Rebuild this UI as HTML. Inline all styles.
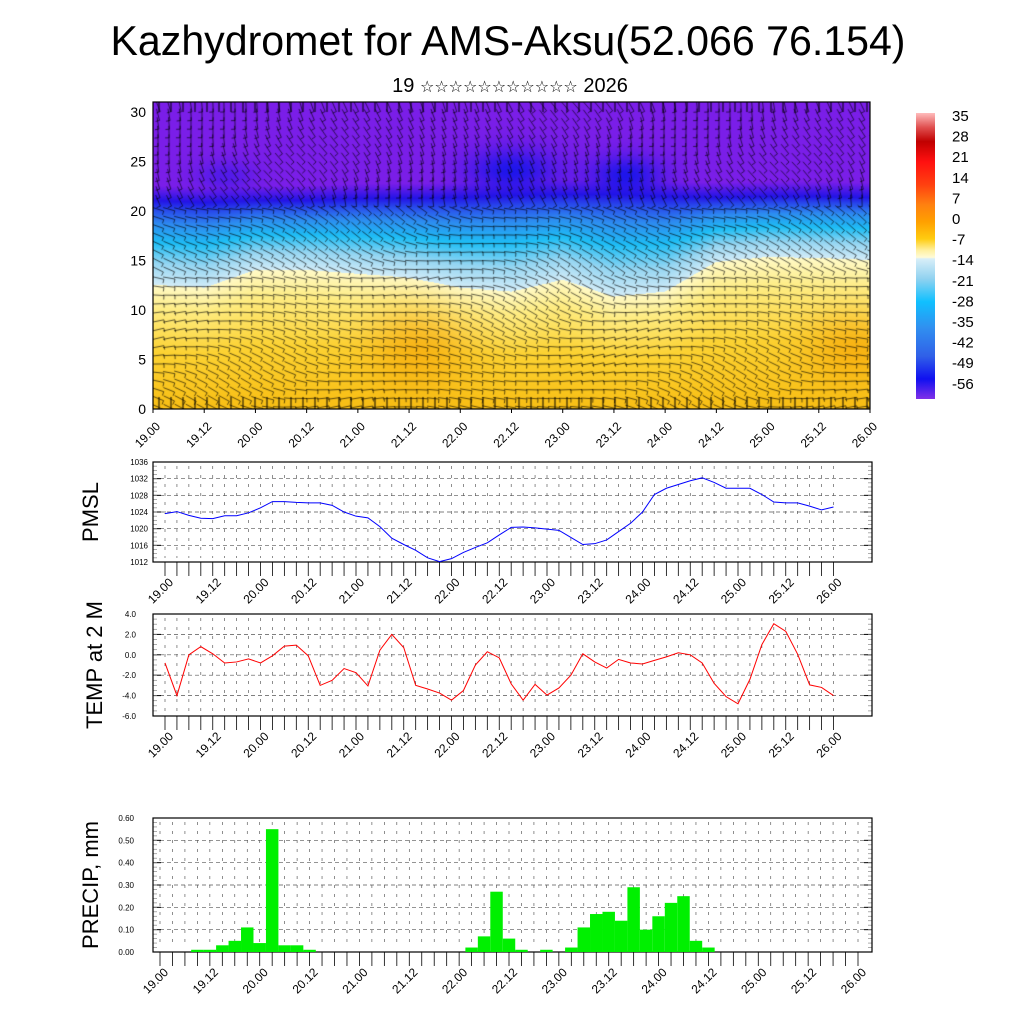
<!DOCTYPE html>
<html><head><meta charset="utf-8"><title>Kazhydromet meteogram</title>
<style>
html,body{margin:0;padding:0;background:#fff;}
#wrap{position:relative;width:1024px;height:1024px;overflow:hidden;font-family:"Liberation Sans",sans-serif;}
#field{position:absolute;left:153px;top:102px;}
#svg{position:absolute;left:0;top:0;}
</style></head>
<body>
<div id="wrap">
<canvas id="field" width="717" height="307"></canvas>
<svg id="svg" width="1024" height="1024" xmlns="http://www.w3.org/2000/svg">
<text x="508" y="55" font-size="42" text-anchor="middle" textLength="795" lengthAdjust="spacingAndGlyphs" font-family="Liberation Sans, sans-serif">Kazhydromet for AMS-Aksu(52.066 76.154)</text>
<text x="510" y="92" font-size="20" text-anchor="middle" font-family="Liberation Sans, DejaVu Sans, sans-serif">19 <tspan font-size="16" font-family="DejaVu Sans, sans-serif">☆☆☆☆☆☆☆☆☆☆☆</tspan> 2026</text>
<g id="g"></g>
</svg>
</div>
<script>
// ---------- data ----------
const timeLabels = ["19.00","19.12","20.00","20.12","21.00","21.12","22.00","22.12","23.00","23.12","24.00","24.12","25.00","25.12","26.00"];
const pmslTicks = [1012,1016,1020,1024,1028,1032,1036];
const pmslValues = [1023.6,1024.1,1023.2,1022.5,1022.4,1023.1,1023.1,1023.8,1025,1026.5,1026.5,1026.3,1026.2,1026.2,1025.6,1024,1023,1022.6,1020.5,1017.7,1016.2,1014.8,1013,1012.1,1012.8,1014.3,1015.5,1016.6,1018.5,1020.3,1020.4,1020.2,1019.9,1019.6,1017.9,1016.2,1016.4,1017.3,1019.3,1021.3,1024,1028.2,1029.7,1030.6,1031.5,1032.2,1031.1,1029.7,1029.7,1029.7,1028.2,1026.4,1026.2,1026.2,1025.4,1024.5,1025.2];
const tempTicks = ["-6.0","-4.0","-2.0","0.0","2.0","4.0"];
const tempValues = [-0.8,-4.0,0.0,0.8,0.1,-0.8,-0.7,-0.4,-0.8,-0.1,0.85,0.95,-0.1,-3.0,-2.5,-1.35,-1.75,-3.05,0.45,2.0,0.7,-3.0,-3.35,-3.75,-4.45,-3.5,-1.0,0.3,-0.3,-2.85,-4.45,-2.9,-3.95,-3.25,-2.0,0.1,-0.7,-1.3,-0.45,-0.8,-0.9,-0.55,-0.2,0.2,0.0,-0.8,-2.8,-4.1,-4.8,-2.4,1.0,3.05,2.3,0.05,-2.95,-3.2,-4.0];
const precipTicks = ["0.00","0.10","0.20","0.30","0.40","0.50","0.60"];
const precipValues = [0,0,0,0.01,0.01,0.03,0.05,0.11,0.04,0.55,0.03,0.03,0.01,0,0,0,0,0,0,0,0,0,0,0,0,0.02,0.07,0.27,0.06,0.01,0,0.01,0,0.02,0.11,0.17,0.18,0.14,0.29,0.10,0.16,0.22,0.25,0.05,0.02,0,0,0,0,0,0,0,0,0,0,0,0];
const heightTicks = [0,5,10,15,20,25,30];
const colorbarLabels = ["35","28","21","14","7","0","-7","-14","-21","-28","-35","-42","-49","-56"];
const warmTop = [12.5,12.2,14,14,13.6,13.2,12.2,11.8,13.0,11.3,11.8,14.8,15.3,15.2,15.0];
const tropo = [21,20.8,21,21,21.2,21.2,21.3,21.5,21.6,21.6,21.4,21.3,21.4,21.4,21.3];

const NS="http://www.w3.org/2000/svg";
const g=document.getElementById('g');
function el(tag,attrs,parent){const e=document.createElementNS(NS,tag);for(const k in attrs)e.setAttribute(k,attrs[k]);(parent||g).appendChild(e);return e;}
function txt(s,attrs,parent){const e=el('text',attrs,parent);e.textContent=s;return e;}

// ---------- field canvas ----------
(function(){
  const c=document.getElementById('field'),ctx=c.getContext('2d');
  const W=717,H=307,img=ctx.createImageData(W,H);
  function interp(arr,f){const p=f*(arr.length-1),i=Math.min(arr.length-2,Math.floor(p)),t=p-i;return arr[i]*(1-t)+arr[i+1]*t;}
  function mix(a,b,t){return [a[0]+(b[0]-a[0])*t,a[1]+(b[1]-a[1])*t,a[2]+(b[2]-a[2])*t];}
  function ramp(stops,t){t=Math.max(0,Math.min(1,t));for(let i=0;i<stops.length-1;i++){if(t<=stops[i+1][0]){return mix(stops[i][1],stops[i+1][1],(t-stops[i][0])/(stops[i+1][0]-stops[i][0]));}}return stops[stops.length-1][1];}
  const warm=[[0,[248,190,20]],[0.45,[252,210,50]],[0.8,[254,236,130]],[1,[255,250,200]]];
  const cold=[[0,[210,236,248]],[0.25,[150,214,242]],[0.5,[30,190,245]],[0.72,[45,140,240]],[0.9,[40,70,235]],[1,[35,20,230]]];
  for(let x=0;x<W;x++){
    const f=x/(W-1),b=interp(warmTop,f),tp=interp(tropo,f);
    for(let y=0;y<H;y++){
      const h=(H-1-y)/H*31;let col;
      if(h<b){col=ramp(warm,h/b);
        const o1=Math.exp(-(((f-0.37)/0.07)**2+((h-6)/4)**2)),o2=Math.exp(-(((f-0.98)/0.07)**2+((h-6)/3.5)**2));
        col=mix(col,[245,160,0],Math.min(1,0.6*(o1+o2)));}
      else if(h<tp){col=ramp(cold,(h-b)/(tp-b));}
      else{const t=Math.min(1,(h-tp)/1.5);col=mix([35,20,230],[122,30,232],t);
        const d1=Math.exp(-(((f-0.5)/0.06)**2+((h-24)/2.2)**2)),d2=Math.exp(-(((f-0.66)/0.05)**2+((h-23.5)/2)**2)),d3=Math.exp(-(((f-0.1)/0.04)**2+((h-23.5)/1.5)**2));
        col=mix(col,[20,20,235],Math.min(1,0.9*(d1+d2)+0.4*d3));}
      const k=(y*W+x)*4;img.data[k]=col[0];img.data[k+1]=col[1];img.data[k+2]=col[2];img.data[k+3]=255;}
  }
  ctx.putImageData(img,0,0);
  ctx.strokeStyle='rgba(0,0,0,0.7)';ctx.lineWidth=0.9;
  for(let j=0;j<36;j++){for(let i=0;i<66;i++){
    const x=5+i*11,y=4+j*8.6,h=(H-y)/H*31;
    let a=h>21?1.2:(h>14?0.35:0.15);a+=0.4*Math.sin(i*0.21+j*0.3)*Math.cos(i*0.07-j*0.11);
    const L=12,dx=Math.cos(a)*L/2,dy=Math.sin(a)*L/2;
    ctx.beginPath();ctx.moveTo(x-dx,y-dy);ctx.lineTo(x+dx,y+dy);
    ctx.lineTo(x+dx-Math.sin(a)*4,y+dy+Math.cos(a)*4);ctx.stroke();}}
  ctx.strokeStyle='#000';ctx.lineWidth=1;
  for(let i=0;i<60;i++){ctx.beginPath();ctx.moveTo(6+i*12,H);ctx.lineTo(6+i*12,H-12);ctx.moveTo(6+i*12,0);ctx.lineTo(6+i*12,10);ctx.stroke();}
})();

// ---------- top panel axes ----------
const topBox={x0:153,x1:870,y0:102,y1:409};
const topX=i=>topBox.x0+i*(topBox.x1-topBox.x0)/14;
const topY=v=>topBox.y1-v*(topBox.y1-topBox.y0)/31;
el('rect',{x:topBox.x0,y:topBox.y0,width:topBox.x1-topBox.x0,height:topBox.y1-topBox.y0,fill:'none',stroke:'#000','stroke-width':1.2,});
heightTicks.forEach(v=>{
  const t=txt(String(v),{x:146,y:topY(v)+5,'font-size':14,'text-anchor':'end'});
  
  
});
timeLabels.forEach((s,i)=>{
  const x=topX(i);
  el('line',{x1:x,y1:topBox.y1,x2:x,y2:topBox.y1+4,stroke:'#000'});
  const t=txt(s,{'font-size':12,'text-anchor':'end',transform:`translate(${x+8},${topBox.y1+18}) rotate(-45)`});
  
  
});
// colorbar
(function(){
  const cb=el('g',{});
  const cbStops=[[0,'#ffbcbc'],[0.05,'#e05050'],[0.1,'#c00000'],[0.17,'#ff1010'],[0.25,'#ff4010'],[0.32,'#ff8010'],[0.38,'#ffa000'],[0.44,'#ffcc10'],[0.48,'#fff0a0'],[0.505,'#fffbd8'],[0.51,'#d8eef8'],[0.58,'#90d2f0'],[0.66,'#10c0ff'],[0.75,'#3090f0'],[0.85,'#3060e8'],[0.93,'#1010f0'],[1,'#8030e8']];
  const defs=el('defs',{},cb);const lg=el('linearGradient',{id:'cbg',x1:0,y1:0,x2:0,y2:1},defs);
  cbStops.forEach(s=>el('stop',{offset:s[0],'stop-color':s[1]},lg));
  el('rect',{x:916,y:113,width:19,height:286,fill:'url(#cbg)'},cb);
  colorbarLabels.forEach((s,i)=>{
    const t=txt(s,{x:952,y:121+i*20.6,'font-size':15},cb);
    
    
  });
})();

// ---------- generic line panel ----------
function panel(name,box,nSteps,xStart,xEnd,ticksY,yFn,minorStep,yMin,yMax){
  const pg=el('g',{});
  const xs=i=>xStart+i*(xEnd-xStart)/nSteps;
  for(let i=0;i<=nSteps;i++){el('line',{x1:xs(i),y1:box.y0+4,x2:xs(i),y2:box.y1-4,stroke:'#444','stroke-width':0.6,'stroke-dasharray':'3,6'},pg);}
  ticksY.forEach(v=>{const y=yFn(v);el('line',{x1:box.x0,y1:y,x2:box.x1,y2:y,stroke:'#555','stroke-width':0.7,'stroke-dasharray':'4,3'},pg);
    el('line',{x1:box.x0,y1:y,x2:box.x0+8,y2:y,stroke:'#000'},pg);el('line',{x1:box.x1-8,y1:y,x2:box.x1,y2:y,stroke:'#000'},pg);});
  for(let v=yMin;v<=yMax+1e-9;v+=minorStep){const y=yFn(v);el('line',{x1:box.x0,y1:y,x2:box.x0+4,y2:y,stroke:'#888','stroke-width':0.7},pg);el('line',{x1:box.x1-4,y1:y,x2:box.x1,y2:y,stroke:'#888','stroke-width':0.7},pg);}
  for(let i=0;i<=nSteps;i++){el('line',{x1:xs(i),y1:box.y1,x2:xs(i),y2:box.y1+14,stroke:'#000','stroke-width':0.8},pg);}
  el('rect',{x:box.x0,y:box.y0,width:box.x1-box.x0,height:box.y1-box.y0,fill:'none',stroke:'#000','stroke-width':1.2},pg);
  timeLabels.forEach((s,i)=>{const x=xs(i*4);
    const t=txt(s,{'font-size':12,'text-anchor':'end',transform:`translate(${x+9},${box.y1+21}) rotate(-45)`},pg);
    
    });
  return {pg,xs};
}

// PMSL
const pBox={x0:153,x1:872,y0:462,y1:562};
const pY=v=>pBox.y0+(1036-v)*(pBox.y1-pBox.y0)/24;
const P=panel('pmsl',pBox,56,165,833.5,pmslTicks,pY,1,1012,1036);
pmslTicks.forEach(v=>{const t=txt(String(v),{x:148,y:pY(v)+3,'font-size':8,'text-anchor':'end'},P.pg);
  
  });
const pl=el('polyline',{points:pmslValues.map((v,i)=>P.xs(i)+','+pY(v)).join(' '),fill:'none',stroke:'#0000ff','stroke-width':1},P.pg);


txt('PMSL',{'font-size':22,'text-anchor':'middle',transform:'translate(98,512) rotate(-90)',});

// TEMP
const tBox={x0:153,x1:872,y0:614,y1:716};
const tY=v=>tBox.y0+(4-v)*(tBox.y1-tBox.y0)/10;
const T=panel('temp',tBox,56,165,833.5,tempTicks.map(Number),tY,0.5,-6,4);
tempTicks.forEach(s=>{const t=txt(s,{x:136,y:tY(+s)+3,'font-size':8,'text-anchor':'end'},T.pg);
  
  });
const tl=el('polyline',{points:tempValues.map((v,i)=>T.xs(i)+','+tY(v)).join(' '),fill:'none',stroke:'#ff0000','stroke-width':1},T.pg);


txt('TEMP at 2 M',{'font-size':22,'text-anchor':'middle',transform:'translate(102,665) rotate(-90)',});

// PRECIP
const rBox={x0:153,x1:872,y0:818,y1:952};
const rY=v=>rBox.y1-v*(rBox.y1-rBox.y0)/0.6;
const R=panel('precip',rBox,56,160,858,precipTicks.map(Number),rY,0.02,0,0.6);
precipTicks.forEach(s=>{const t=txt(s,{x:134,y:rY(+s)+3,'font-size':8,'text-anchor':'end'},R.pg);
  
  });
const bw=(858-160)/56;
precipValues.forEach((v,i)=>{if(v<=0)return;
  const r=el('rect',{x:R.xs(i)-bw/2,y:rY(v),width:bw,height:rBox.y1-rY(v),fill:'#00f000'},R.pg);
  
  });
txt('PRECIP, mm',{'font-size':22,'text-anchor':'middle',transform:'translate(98,885) rotate(-90)',});
</script>
</body></html>
